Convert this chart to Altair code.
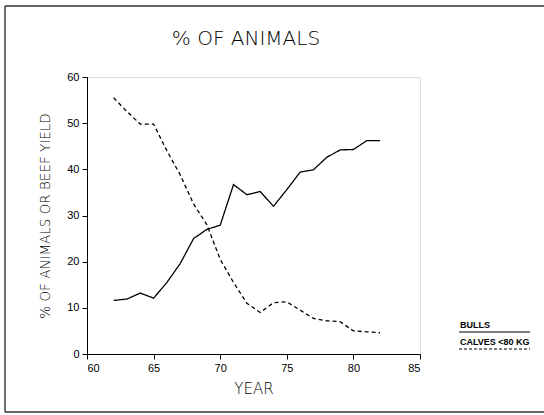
import altair as alt
import pandas as pd

# Share of animals by year (two series)
years = list(range(62, 83))
bulls = [11.6, 11.9, 13.2, 12.1, 15.5, 19.6, 25.0, 27.0, 27.9, 36.7, 34.5,
         35.2, 32.0, 35.6, 39.4, 39.9, 42.6, 44.2, 44.3, 46.2, 46.2]
calves = [55.5, 52.5, 49.8, 49.8, 44.0, 38.8, 32.5, 28.0, 20.5, 15.5, 11.0,
          9.0, 11.1, 11.3, 9.5, 7.7, 7.2, 7.0, 5.0, 4.8, 4.6]

series_names = ["BULLS", "CALVES <80 KG"]
x_ticks = [60, 65, 70, 75, 80, 85]
y_ticks = [0, 10, 20, 30, 40, 50, 60]
chart_title = "% OF ANIMALS"

df = pd.DataFrame({
    "year": years * 2,
    "value": bulls + calves,
    "series": [series_names[0]] * len(years) + [series_names[1]] * len(years),
})

FONT = "Liberation Sans"
TITLE_FONT = "DejaVu Sans"
W, H = 333, 277
PAD_L, PAD_T = 87, 77

lines = alt.Chart(df).mark_line(color="black", strokeWidth=1.3).encode(
    x=alt.X("year:Q",
            scale=alt.Scale(domain=[60, 85], nice=False, zero=False),
            axis=alt.Axis(values=x_ticks, title="YEAR", grid=False,
                          tickSize=5, labelPadding=3, titlePadding=8,
                          labelFontSize=11, titleFontSize=15,
                          titleFontWeight=200, labelFont=FONT, titleFont=TITLE_FONT,
                          domainColor="black", tickColor="black",
                          labelColor="black", titleColor="black")),
    y=alt.Y("value:Q",
            scale=alt.Scale(domain=[0, 60], nice=False),
            axis=alt.Axis(values=y_ticks, title="% OF ANIMALS OR BEEF YIELD",
                          grid=False, tickSize=5, labelPadding=3, titlePadding=14,
                          labelFontSize=11, titleFontSize=13.5,
                          titleFontWeight=200, labelFont=FONT, titleFont=TITLE_FONT,
                          domainColor="black", tickColor="black",
                          labelColor="black", titleColor="black")),
    strokeDash=alt.StrokeDash("series:N",
                              scale=alt.Scale(domain=series_names,
                                              range=[[1, 0], [4, 3]]),
                              legend=None),
    detail="series:N",
)

one = pd.DataFrame({"k": [0]})


def label(text, x, y, size, weight="normal", font=FONT, align="center"):
    return alt.Chart(one).mark_text(
        text=text, align=align, baseline="alphabetic", fontSize=size,
        fontWeight=weight, font=font, color="black"
    ).encode(x=alt.value(x), y=alt.value(y))


# Heading above the plot
heading = label(chart_title, 159, -32, 20, weight=200, font=TITLE_FONT)

# Key on the right: label with a line sample underneath
key_bulls = label(series_names[0], 373, 251, 9, "bold", align="left")
key_calves = label(series_names[1], 373, 268, 9, "bold", align="left")
key_solid = alt.Chart(one).mark_rule(color="black", strokeWidth=1.2).encode(
    x=alt.value(372), x2=alt.value(443), y=alt.value(255))
key_dash = alt.Chart(one).mark_rule(
    color="black", strokeWidth=1.2, strokeDash=[3, 2]
).encode(x=alt.value(372), x2=alt.value(443), y=alt.value(272))

# Surrounding frame (left, top, bottom edges)
frame_color = "#333333"
frame_left = alt.Chart(one).mark_rule(color=frame_color, strokeWidth=1.4).encode(
    x=alt.value(-82), y=alt.value(-71), y2=alt.value(335))
frame_top = alt.Chart(one).mark_rule(color=frame_color, strokeWidth=1.4).encode(
    x=alt.value(-82), x2=alt.value(457), y=alt.value(-71))
frame_bottom = alt.Chart(one).mark_rule(color=frame_color, strokeWidth=1.4).encode(
    x=alt.value(-82), x2=alt.value(457), y=alt.value(335))

chart = alt.layer(
    lines, heading, key_bulls, key_calves, key_solid, key_dash,
    frame_left, frame_top, frame_bottom
).properties(
    width=W, height=H,
    autosize=alt.AutoSizeParams(type="none"),
    padding={"left": PAD_L, "top": PAD_T, "right": 544 - PAD_L - W,
             "bottom": 415 - PAD_T - H},
).configure_view(stroke=None).configure(background="white")

chart.save("out.html", embed_options={"renderer": "svg", "actions": False})
